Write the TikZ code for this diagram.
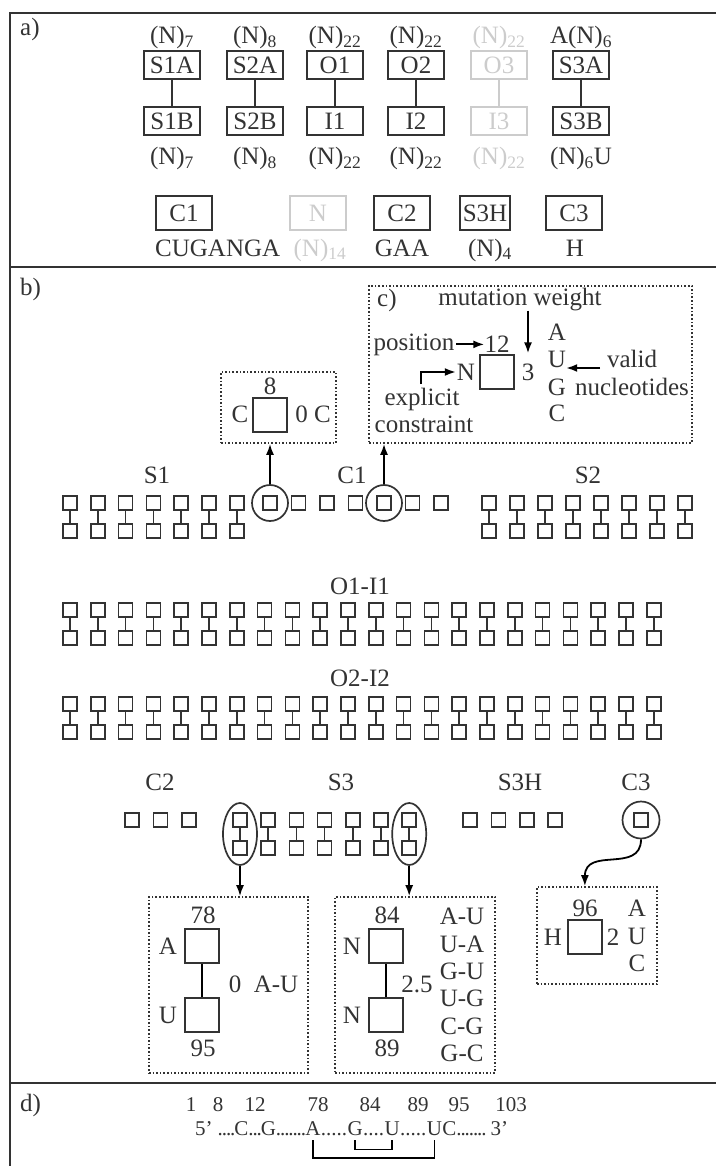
\documentclass[tikz,border=0pt]{standalone}
\usepackage{fontspec}
\setmainfont{Liberation Serif}
\usetikzlibrary{arrows.meta,calc,shapes.geometric}
\definecolor{ink}{gray}{0.2}
\definecolor{lite}{gray}{0.8}
\newcommand\myfs{\fontsize{25}{29}\selectfont}
\newcommand\smfs{\fontsize{21}{25}\selectfont}
\newcommand\td{.\kern-1.1pt}
\begin{document}
\begin{tikzpicture}[x=1pt,y=-1pt,
  every node/.style={font=\myfs, text=ink},
  lbl/.style={inner sep=0pt},
  frame/.style={draw=ink, line width=2pt},
  abox/.style={draw=ink, line width=2pt, minimum width=56pt, minimum height=28pt, inner sep=0pt},
  sq/.style={draw=ink, line width=1.7pt, minimum size=14pt, inner sep=0pt},
  bigsq/.style={draw=ink, line width=2pt, minimum size=34pt, inner sep=0pt},
  pl/.style={draw=ink, line width=1.7pt},
  dbox/.style={draw=ink, line width=1.6pt, dotted, inner sep=0pt},
  ring/.style={circle, draw=ink, line width=1.7pt, inner sep=0pt},
  arr/.style={-{Latex[length=11pt,width=8pt]}, line width=1.8pt, draw=black},
  brk/.style={draw=black, line width=1.8pt}]
\useasboundingbox (0,0) rectangle (716,1166);
% frame
\draw[frame] (716,13) -- (10,13) -- (10,1166);
\draw[frame] (10,267) -- (716,267);
\draw[frame] (10,1083) -- (716,1083);

% ---------------- panel a
\node[lbl, anchor=base west] (la) at (20,36) {a)};
\foreach \n/\x/\ta/\tb/\la/\lb/\c in {
  s1/172/S1A/S1B/{(N)\textsubscript{7}}/{(N)\textsubscript{7}}/ink,
  s2/255/S2A/S2B/{(N)\textsubscript{8}}/{(N)\textsubscript{8}}/ink,
  o1/335/O1/I1/{(N)\textsubscript{22}}/{(N)\textsubscript{22}}/ink,
  o2/416/O2/I2/{(N)\textsubscript{22}}/{(N)\textsubscript{22}}/ink,
  o3/499/O3/I3/{(N)\textsubscript{22}}/{(N)\textsubscript{22}}/lite,
  s3/581/S3A/S3B/{A(N)\textsubscript{6}}/{(N)\textsubscript{6}U}/ink}{
  \node[abox, draw=\c, text=\c] (\n-a) at (\x,65) {\ta};
  \node[abox, draw=\c, text=\c] (\n-b) at (\x,121) {\tb};
  \draw[draw=\c, line width=2pt] (\n-a) -- (\n-b);
  \node[lbl, text=\c, anchor=base] (\n-la) at (\x,44) {\la};
  \node[lbl, text=\c, anchor=base] (\n-lb) at (\x,165) {\lb};
}
\node[abox, minimum height=34pt] (c1-box) at (184,213) {C1};
\node[abox, minimum height=34pt, draw=lite, text=lite] (nn-box) at (318,213) {N};
\node[abox, minimum height=34pt] (c2-box) at (402,213) {C2};
\node[abox, minimum height=34pt, minimum width=50pt] (s3h-box) at (485,213) {S3H};
\node[abox, minimum height=34pt] (c3-box) at (574,213) {C3};
\node[lbl, anchor=base west] (c1-l) at (155,256) {CUGANGA};
\node[lbl, anchor=base, text=lite] (nn-l) at (320,256) {(N)\textsubscript{14}};
\node[lbl, anchor=base] (c2-l) at (402,256) {GAA};
\node[lbl, anchor=base] (s3h-l) at (490,256) {(N)\textsubscript{4}};
\node[lbl, anchor=base] (c3-l) at (575,256) {H};

% ---------------- panel b
\node[lbl, anchor=base west] (lb) at (20,295) {b)};

% box 8
\node[dbox, minimum width=115pt, minimum height=71pt] (box8) at (278.5,407.5) {};
\node[bigsq] (sq8) at (270,415) {};
\node[lbl, anchor=base] (n8) at (270,394) {8};
\node[lbl] (c8l) at (240,414) {C};
\node[lbl] (c8r) at (313,414) {0 C};

% box c
\node[dbox, minimum width=323pt, minimum height=157pt] (cbox) at (530.5,364.5) {};
\node[lbl, anchor=base west] (lc) at (377,306) {c)};
\node[lbl, anchor=base] (mw) at (520,305) {mutation weight};
\node[bigsq] (sq12) at (497,372) {};
\node[lbl, anchor=base] (n12) at (497,352) {12};
\node[lbl, inner sep=1pt] (nN) at (466,372) {N};
\node[lbl] (w3) at (528,372) {3};
\node[lbl, anchor=base, inner sep=2pt] (pos) at (414,350) {position};
\node[lbl] (nA) at (557,332) {A};
\node[lbl] (nU) at (557,359) {U};
\node[lbl] (nG) at (557,387) {G};
\node[lbl] (nC) at (557,413) {C};
\node[lbl, anchor=base] (valid) at (632,367) {valid};
\node[lbl, anchor=base] (nucl) at (632,395) {nucleotides};
\node[lbl, anchor=base] (expl) at (422,405) {explicit};
\node[lbl, anchor=base] (cons) at (424,432) {constraint};
\draw[arr, shorten >=10pt] (mw.south -| w3.north) -- (w3.north);
\draw[arr] (pos.east) -- (pos.east -| n12.west);
\coordinate (vstart) at (600,368);
\draw[arr] (vstart) -- (vstart -| nU.east);
\coordinate (bst) at (421,384);
\draw[arr] (bst) |- (nN.west);

% row S1 / C1 / S2
\node[lbl, anchor=base] (lS1) at (157,483) {S1};
\node[lbl, anchor=base] (lC1) at (352,483) {C1};
\node[lbl, anchor=base] (lS2) at (588,483) {S2};
\foreach \i in {0,...,6}{
  \node[sq] (s1t\i) at ({70+27.8*\i},503) {};
  \node[sq] (s1b\i) at ({70+27.8*\i},531) {};
  \draw[pl] (s1t\i) -- (s1b\i);
  \node[sq] (c1s\i) at ({270+28.5*\i},503) {};
}
\foreach \i in {0,...,7}{
  \node[sq] (s2t\i) at ({489+28*\i},503) {};
  \node[sq] (s2b\i) at ({489+28*\i},531) {};
  \draw[pl] (s2t\i) -- (s2b\i);
}
\node[ring, minimum size=36pt] (cc1) at (c1s0) {};
\node[ring, minimum size=36pt] (cc2) at (c1s4) {};
\draw[arr] (cc1.north) -- (cc1.north |- box8.south);
\draw[arr] (cc2.north) -- (cc2.north |- cbox.south);

% rows O1-I1, O2-I2
\node[lbl, anchor=base] (lO1) at (360,594) {O1-I1};
\node[lbl, anchor=base] (lO2) at (360,686) {O2-I2};
\foreach \i in {0,...,21}{
  \node[sq] (o1t\i) at ({70+27.8*\i},610) {};
  \node[sq] (o1b\i) at ({70+27.8*\i},638) {};
  \draw[pl] (o1t\i) -- (o1b\i);
  \node[sq] (o2t\i) at ({70+27.8*\i},704) {};
  \node[sq] (o2b\i) at ({70+27.8*\i},732) {};
  \draw[pl] (o2t\i) -- (o2b\i);
}

% row C2 / S3 / S3H / C3
\node[lbl, anchor=base] (lC2) at (160,790) {C2};
\node[lbl, anchor=base] (lS3) at (341,790) {S3};
\node[lbl, anchor=base] (lS3H) at (520,790) {S3H};
\node[lbl, anchor=base] (lC3) at (636,790) {C3};
\foreach \i in {0,1,2}{ \node[sq] (c2s\i) at ({132+28.5*\i},820) {}; }
\foreach \i in {0,...,6}{
  \node[sq] (s3t\i) at ({240+28.2*\i},820) {};
  \node[sq] (s3b\i) at ({240+28.2*\i},848) {};
  \draw[pl] (s3t\i) -- (s3b\i);
}
\foreach \i in {0,...,3}{ \node[sq] (s3hs\i) at ({470+28.4*\i},820) {}; }
\node[sq] (c3s) at (641,820) {};
\node[ring, minimum size=37pt] (cc3) at (c3s) {};
\node[ellipse, draw=ink, line width=1.7pt, inner sep=0pt, minimum width=34pt, minimum height=62pt] (e1) at ($(s3t0)!0.5!(s3b0)$) {};
\node[ellipse, draw=ink, line width=1.7pt, inner sep=0pt, minimum width=34pt, minimum height=62pt] (e2) at ($(s3t6)!0.5!(s3b6)$) {};

% detail boxes
\node[dbox, minimum width=159pt, minimum height=176pt] (bx1) at (228.5,985) {};
\node[bigsq] (sqA) at (202,946) {};
\node[bigsq] (sqU) at (202,1015) {};
\draw[line width=2pt] (sqA) -- (sqU);
\node[lbl, anchor=base] (n78) at (203,923) {78};
\node[lbl, anchor=base] (n95) at (203,1056) {95};
\node[lbl] (lA) at (168,946) {A};
\node[lbl] (lU) at (168,1015) {U};
\node[lbl] (w0) at (235,984) {0};
\node[lbl] (pAU) at (276,984) {A-U};

\node[dbox, minimum width=160pt, minimum height=176pt] (bx2) at (415,985) {};
\node[bigsq] (sqN1) at (386,946) {};
\node[bigsq] (sqN2) at (386,1015) {};
\draw[line width=2pt] (sqN1) -- (sqN2);
\node[lbl, anchor=base] (n84) at (387,923) {84};
\node[lbl, anchor=base] (n89) at (387,1056) {89};
\node[lbl] (lN1) at (352,946) {N};
\node[lbl] (lN2) at (352,1015) {N};
\node[lbl] (w25) at (417,984) {2.5};
\foreach \p/\y [count=\k] in {A-U/916, U-A/944, G-U/971, U-G/998, C-G/1026, G-C/1053}{
  \node[lbl] (pr\k) at (462,\y) {\p};
}

\node[dbox, minimum width=120pt, minimum height=97pt] (bx3) at (597,935.5) {};
\node[bigsq] (sqH) at (585,937) {};
\node[lbl, anchor=base] (n96) at (585,916) {96};
\node[lbl] (lH) at (553,937) {H};
\node[lbl] (w2) at (613,937) {2};
\node[lbl] (hA) at (637,908) {A};
\node[lbl] (hU) at (637,936) {U};
\node[lbl] (hC) at (637,963) {C};

\draw[arr] (e1.south) -- (e1.south |- bx1.north);
\draw[arr] (e2.south) -- (e2.south |- bx2.north);
\draw[arr] (cc3.south) .. controls (641,874) and (585,846) .. ($(bx3.north west)!0.4!(bx3.north east)$);

% ---------------- panel d
\node[lbl, anchor=base west] (ld) at (20,1111) {d)};
\foreach \x/\t in {191/1, 218/8, 255/12, 318/78, 370/84, 418/89, 459/95, 511/103}{
  \node[lbl, anchor=base, font=\smfs] (num\t) at (\x,1111) {\t};
}
\node[lbl, anchor=base, font=\smfs] (dA) at (313,1135) {A};
\node[lbl, anchor=base east, font=\smfs] (d0) at (dA.base west) {5' \td\td\td\td C\td\td\td G\td\td\td\td\td\td\td};
\node[lbl, anchor=base west, font=\smfs] (d1) at (dA.base east) {.....};
\node[lbl, anchor=base west, font=\smfs] (dG) at (d1.base east) {G};
\node[lbl, anchor=base west, font=\smfs] (d2) at (dG.base east) {....};
\node[lbl, anchor=base west, font=\smfs] (dU1) at (d2.base east) {U};
\node[lbl, anchor=base west, font=\smfs] (d3) at (dU1.base east) {.....};
\node[lbl, anchor=base west, font=\smfs] (dU2) at (d3.base east) {U};
\node[lbl, anchor=base west, font=\smfs] (d4) at (dU2.base east) {C\td\td\td\td\td\td\td\ 3'};
\draw[brk] ($(dA.south)+(0,5)$) -- ++(0,18) -| ($(dU2.south)+(0,5)$);
\draw[brk] ($(dG.south)+(0,5)$) -- ++(0,9) -| ($(dU1.south)+(0,5)$);
\end{tikzpicture}
\end{document}
